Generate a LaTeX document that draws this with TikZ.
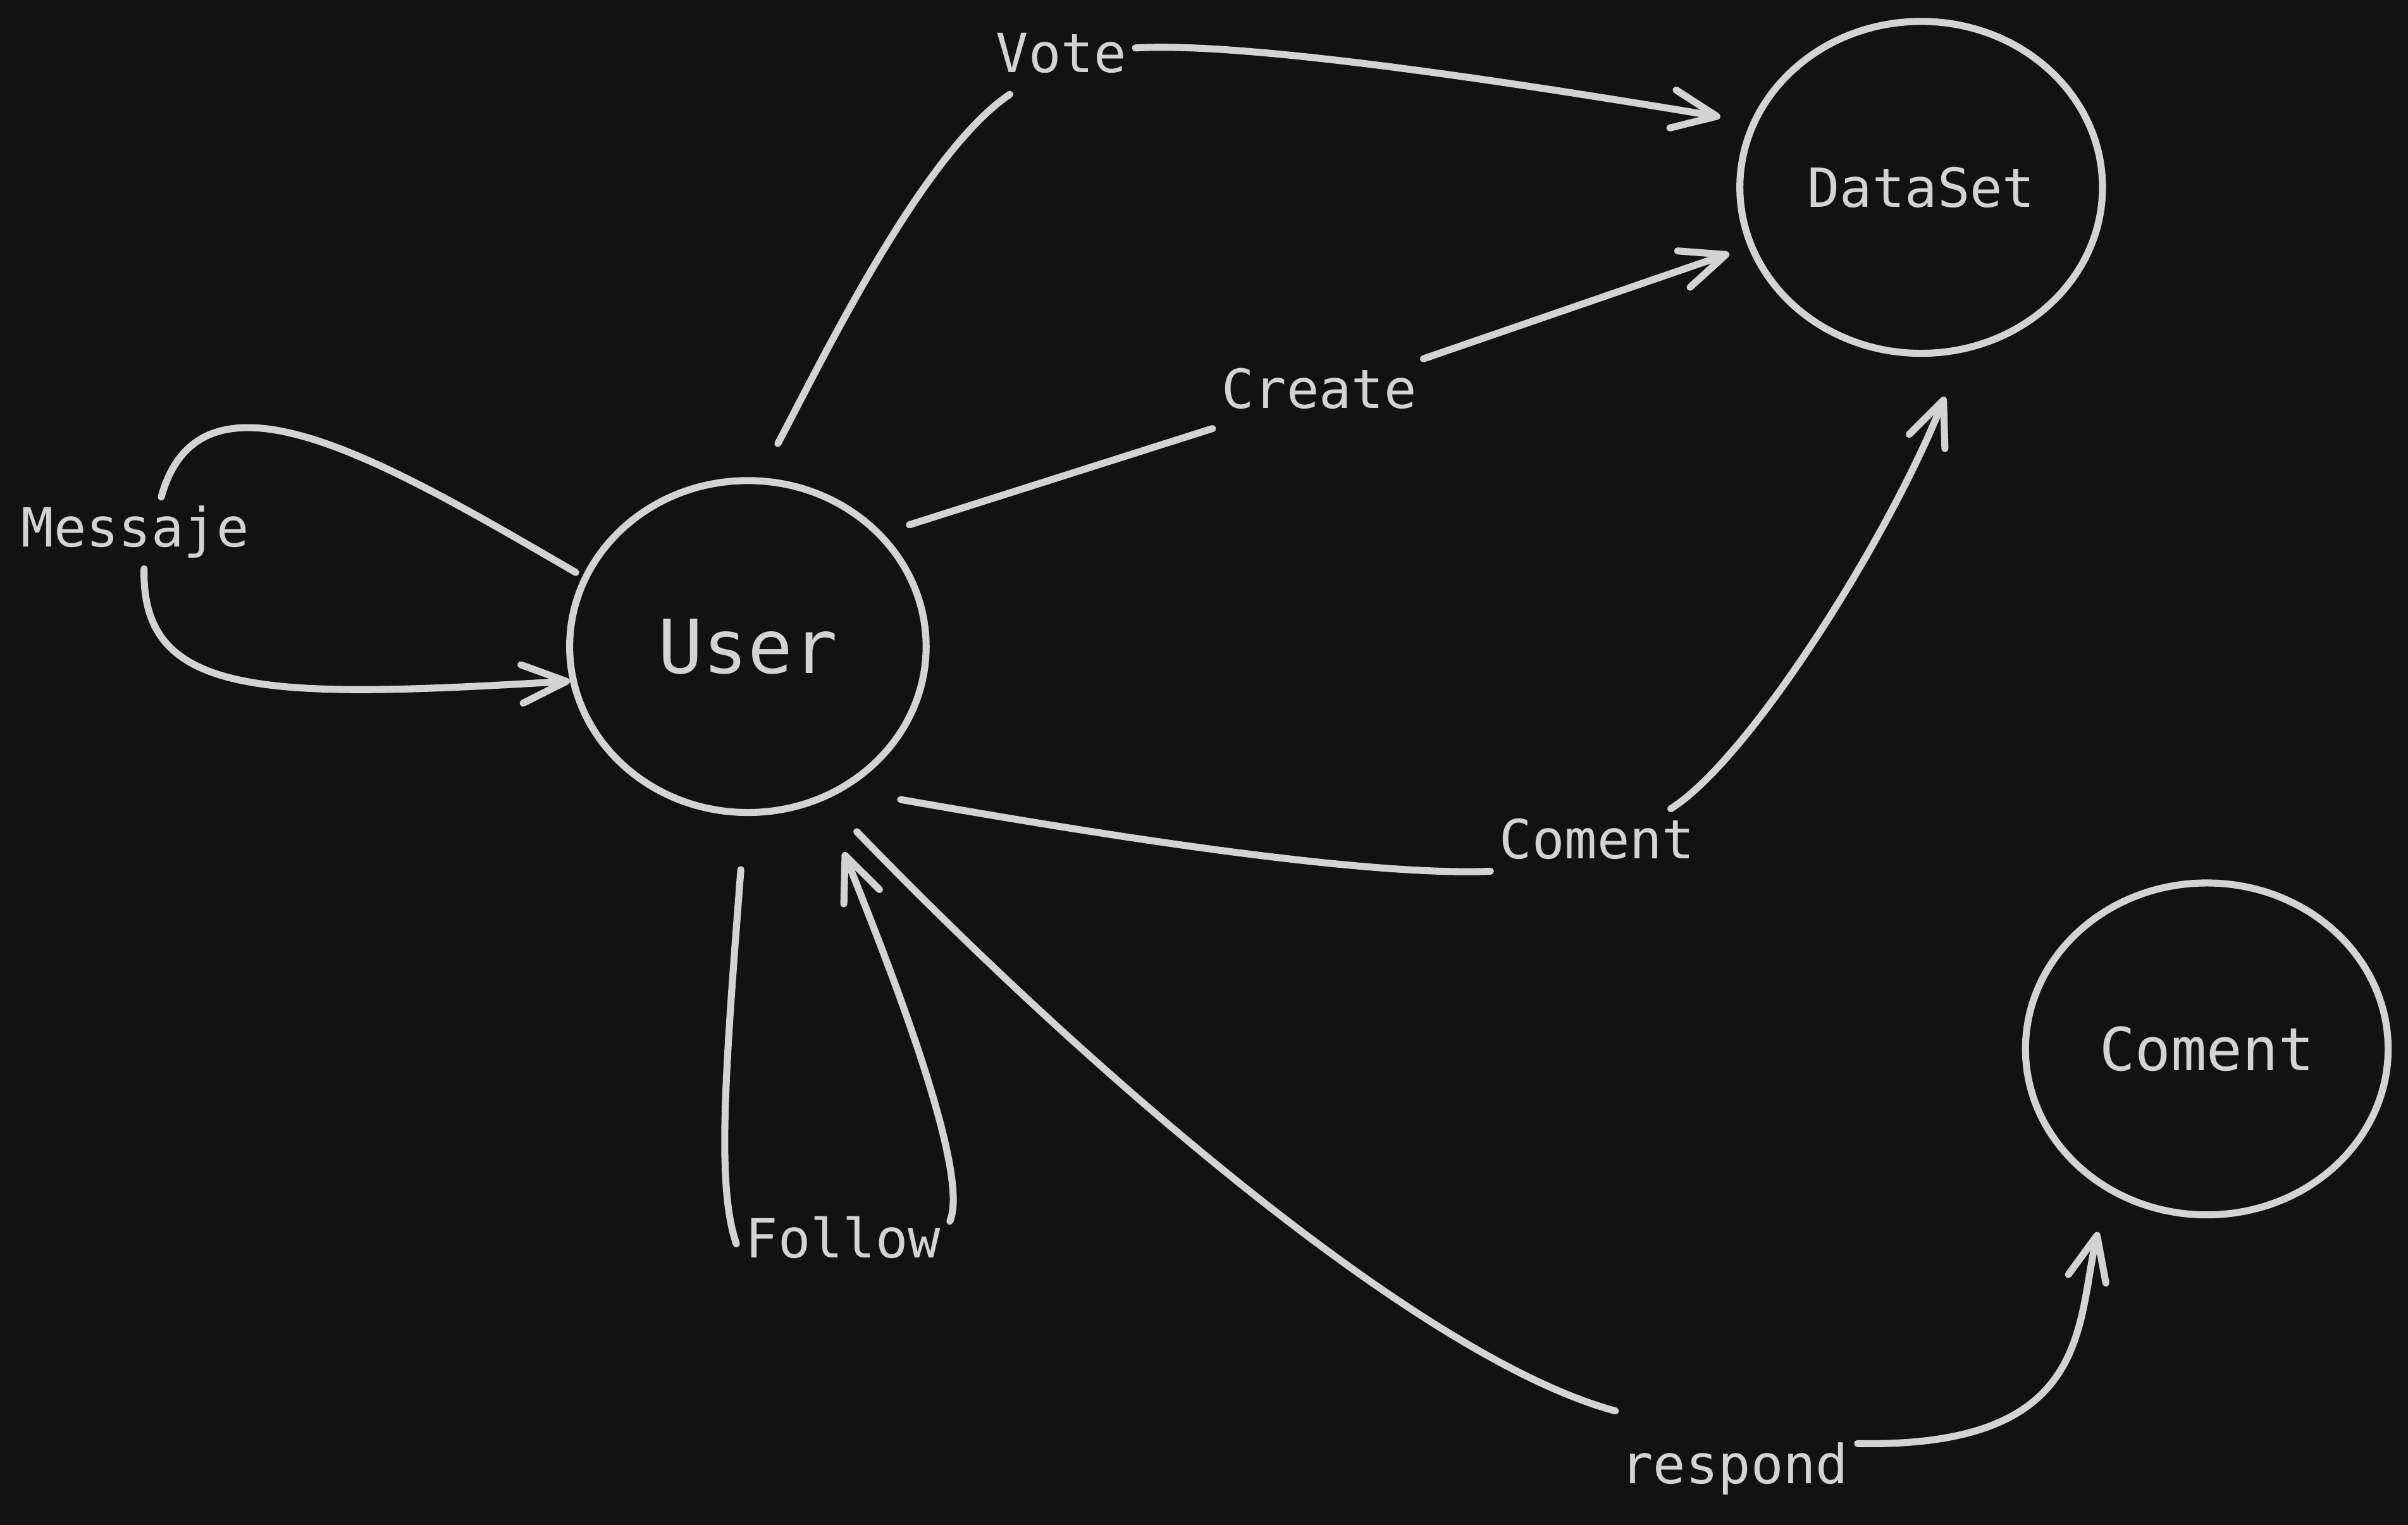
\documentclass[tikz,border=0pt]{standalone}
\usepackage{fontspec}
\setmonofont{DejaVu Sans Mono}
\usetikzlibrary{shapes.geometric,arrows.meta}

\definecolor{ink}{HTML}{D3D3D3}
\definecolor{board}{HTML}{121212}

\tikzstyle{entity}=[ellipse,draw=ink,line width=1.3pt,minimum width=2.36cm,minimum height=2.16cm,inner sep=0pt,text=ink,font=\ttfamily\fontsize{10}{12}\selectfont]
\tikzstyle{tag}=[inner sep=1.5pt,text=ink,text height=7.5pt,text depth=2.4pt,font=\ttfamily\fontsize{10}{12}\selectfont]
\tikzstyle{link}=[draw=ink,line width=1.3pt,line cap=round]
\tikzstyle{arrow link}=[link,-{Straight Barb[length=2.9mm,width=2.5mm,line cap=round,line join=round]}]

\begin{document}
\begin{tikzpicture}[x=0.01cm,y=-0.01cm]
	\fill[board] (0,0) rectangle (1568,993);
	\useasboundingbox (0,0) rectangle (1568,993);
			% entities
			\node[entity,minimum width=2.32cm,font=\ttfamily\fontsize{13.8}{16}\selectfont] (user) at (487,421) {User};
			\node[entity] (dataset) at (1251,122) {DataSet};
			\node[entity,font=\ttfamily\fontsize{11}{13}\selectfont] (coment) at (1437,683) {Coment};
			% relation names, the lines stop around them
			\foreach \tagname/\x/\y/\txt in {vote/691/38/Vote, create/859/257/Create, messaje/88/347/Messaje, comentlbl/1040/550/Coment, follow/549/810/Follow, respond/1129.5/957/respond}
				\node[tag] (\tagname) at (\x,\y) {\txt};
			% Messaje
			\path[link,shorten <=0.5mm] (user.157) .. controls +(-129,-75) and +(26,-94) .. (messaje.54);
			\path[arrow link] (messaje.284) .. controls +(-2,85) and +(-196,11.5) .. (user.191);
			% Vote
			\path[link,shorten <=2.5mm] (user.86) .. controls +(38,-71) and +(-58,39) .. (vote.215);
			\path[arrow link,shorten >=2mm] (vote.8) .. controls +(70,-4) and +(-168,-28) .. (dataset.159);
			% Create
			\path[link,shorten <=1.8mm] (user.40) -- (create);
			\path[arrow link,shorten >=1.3mm] (create) -- (dataset.199);
			% Coment
			\path[link,shorten <=3.7mm] (user.304) .. controls +(99,17) and +(-100,4) .. (comentlbl.194);
			\path[arrow link,shorten >=3.1mm] (comentlbl.26) .. controls +(51,-32) and +(-48,121) .. (dataset.284);
			% Follow
			\path[link,shorten <=3.5mm] (user.269) .. controls +(-13,169) and +(-13,-38) .. (follow.west);
			\path[arrow link,shorten >=3.6mm] (follow.12) .. controls +(14,-32) and +(41,102) .. (user.296);
			% respond
			\path[link,shorten <=2.9mm,shorten >=5.7mm] (user.297) .. controls +(163,169) and +(-185,-50) .. (respond.134);
			\path[arrow link,shorten >=2.7mm] (respond.12) .. controls +(152,3) and +(-20,88) .. (coment.235);
\end{tikzpicture}
\end{document}
